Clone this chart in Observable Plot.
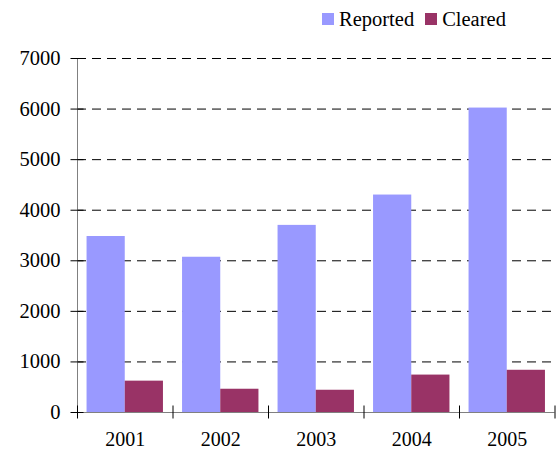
<!DOCTYPE html>
<html><head><meta charset="utf-8">
<script src="https://cdn.jsdelivr.net/npm/d3@7"></script>
<script src="https://cdn.jsdelivr.net/npm/@observablehq/plot@0.6"></script>
<style>
body{margin:0;background:#fff;}
#wrap{position:relative;width:559px;height:452px;font-family:"Liberation Serif","Times New Roman",serif;}
#legend{position:absolute;top:9px;left:322px;display:flex;align-items:center;font-size:20.5px;line-height:20px;color:#000;white-space:nowrap;}
#legend .item{display:flex;align-items:center;margin-right:11px;}
#legend .sw{width:12px;height:12px;margin-right:5px;}
</style></head><body><div id="wrap"><div id="legend"></div></div>
<script>
const years = [2001, 2002, 2003, 2004, 2005];
const reported = [3480, 3070, 3700, 4300, 6020];
const cleared = [620, 460, 440, 740, 835];
const yTicks = [0, 1000, 2000, 3000, 4000, 5000, 6000, 7000];
const seriesNames = ["Reported", "Cleared"];
const seriesColors = ["#9999ff", "#993366"];

const table = years.map((year, i) => ({year, reported: reported[i], cleared: cleared[i]}));
const boundaries = [...years.map(y => y - 0.5), years[years.length - 1] + 0.5];
const x0 = boundaries[0];

const hTick = {draw(ctx) { ctx.moveTo(-7, 0); ctx.lineTo(6, 0); }};
const vTick = {draw(ctx) { ctx.moveTo(0, -7); ctx.lineTo(0, 6); }};
const font = '"Liberation Serif","Times New Roman",serif';

const chart = Plot.plot({
  width: 559, height: 452,
  marginLeft: 77, marginRight: 4.5, marginTop: 58, marginBottom: 40,
  x: {domain: [boundaries[0], boundaries[boundaries.length - 1]], axis: null},
  y: {domain: [0, yTicks[yTicks.length - 1]], axis: null},
  style: {fontFamily: font, background: "white", overflow: "visible"},
  marks: [
    Plot.ruleY(yTicks.filter(t => t > 0), {y: d => d, stroke: "#000", strokeDasharray: "9,6"}),
    Plot.rectY(table, {x1: d => d.year - 0.4, x2: d => d.year, y1: 0, y2: "reported", fill: seriesColors[0]}),
    Plot.rectY(table, {x1: d => d.year, x2: d => d.year + 0.4, y1: 0, y2: "cleared", fill: seriesColors[1]}),
    Plot.ruleX([x0], {x: d => d, y1: 0, y2: yTicks[yTicks.length - 1], stroke: "#808080"}),
    Plot.ruleY([0], {y: d => d, stroke: "#808080"}),
    Plot.dot(yTicks, {x: () => x0, y: d => d, symbol: hTick, fill: "none", stroke: "#000", strokeWidth: 1}),
    Plot.dot(boundaries, {x: d => d, y: () => 0, symbol: vTick, fill: "none", stroke: "#000", strokeWidth: 1}),
    Plot.text(yTicks, {x: () => x0, y: d => d, text: d => String(d), textAnchor: "end", dx: -17, fontSize: 20.5, fill: "#000"}),
    Plot.text(years, {x: d => d, y: () => 0, text: d => String(d), dy: 27, fontSize: 20, fill: "#000"})
  ]
});
document.getElementById("wrap").appendChild(chart);

const legend = document.getElementById("legend");
seriesNames.forEach((name, i) => {
  const item = document.createElement("div");
  item.className = "item";
  const sw = document.createElement("div");
  sw.className = "sw";
  sw.style.background = seriesColors[i];
  const label = document.createElement("span");
  label.textContent = name;
  item.appendChild(sw);
  item.appendChild(label);
  legend.appendChild(item);
});
</script>
</body></html>
